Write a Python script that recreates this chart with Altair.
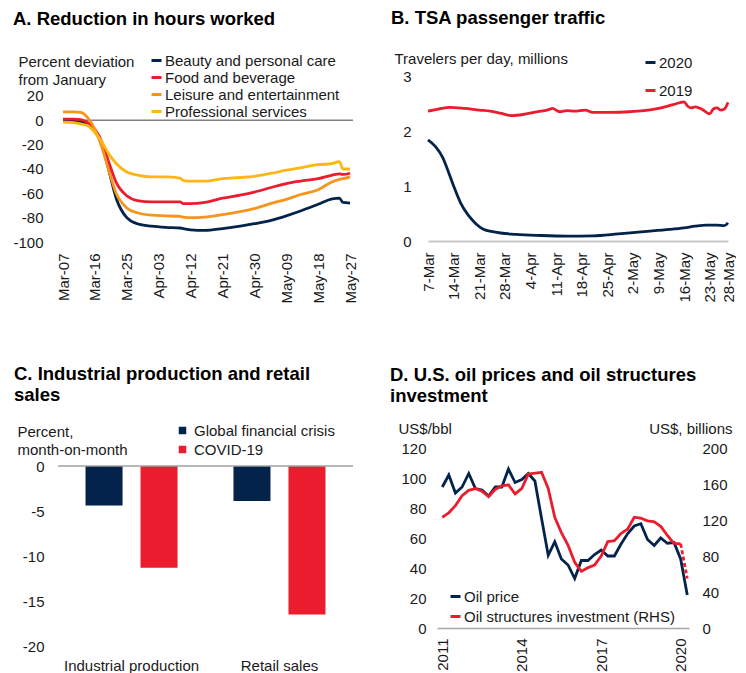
import altair as alt
import pandas as pd

FONT = "Liberation Sans"
NAVY = "#03234B"
RED = "#EB1C2D"
ORANGE = "#F7941D"
YELLOW = "#FDB714"
TXT = "#1A1A1A"
FS = 15
TFS = 18.5

# ---------------- Panel A data ----------------
a_dates = ["2020-03-07", "2020-03-10", "2020-03-12", "2020-03-14", "2020-03-16", "2020-03-18",
           "2020-03-20", "2020-03-22", "2020-03-25", "2020-03-28", "2020-04-01", "2020-04-05",
           "2020-04-09", "2020-04-10", "2020-04-12", "2020-04-16", "2020-04-21", "2020-04-26",
           "2020-04-30", "2020-05-05", "2020-05-09", "2020-05-13", "2020-05-18", "2020-05-22",
           "2020-05-24", "2020-05-25", "2020-05-27"]
a_series = ["Beauty and personal care", "Food and beverage", "Leisure and entertainment",
            "Professional services"]
a_beauty = [-1, -1, -1.5, -3, -9, -20, -42, -64, -80, -85, -87, -88, -88.5, -89, -90, -90.5,
            -89, -87, -85, -82, -78.5, -74.5, -69, -64.5, -64, -67.5, -68]
a_food = [1, 1, 0.5, -2, -7.5, -18, -35, -51, -62, -66, -67, -67, -67, -68.5, -68.5, -67.5,
          -64, -61.5, -59, -55, -52, -50, -48, -45, -44, -44.5, -43.5]
a_leisure = [7, 7, 6.5, 2, -7.5, -22.5, -42, -60, -72, -76, -78, -78.5, -79, -79.5, -80, -79.5,
             -77.5, -75, -72.5, -68, -65, -61, -57, -50.5, -48.5, -48, -46.5]
a_prof = [-1.5, -2, -3, -4.5, -10, -18, -28, -35.5, -42.5, -45, -46.5, -46.5, -47.5, -49.5, -50,
          -50, -48, -47, -46, -43.5, -41, -39, -36.5, -35.5, -34, -40, -40]
a_xticks = [(3, 7), (3, 16), (3, 25), (4, 3), (4, 12), (4, 21), (4, 30), (5, 9), (5, 18), (5, 27)]
a_yticks = [20, 0, -20, -40, -60, -80, -100]
a_zero_span = ["2020-03-07", "2020-05-28"]

# ---------------- Panel B data ----------------
b_series = ["2020", "2019"]
b_dates_2020 = ["2020-03-07", "2020-03-09", "2020-03-11", "2020-03-13", "2020-03-14", "2020-03-16",
                "2020-03-18", "2020-03-20", "2020-03-22", "2020-03-25", "2020-03-31", "2020-04-07",
                "2020-04-14", "2020-04-21", "2020-04-28", "2020-05-05", "2020-05-12", "2020-05-16",
                "2020-05-19", "2020-05-22", "2020-05-25", "2020-05-27", "2020-05-28"]
b_vals_2020 = [1.84, 1.72, 1.52, 1.18, 1.0, 0.68, 0.47, 0.32, 0.22, 0.165, 0.12, 0.10, 0.09,
               0.095, 0.13, 0.17, 0.21, 0.24, 0.27, 0.29, 0.29, 0.28, 0.33]
b_dates_2019 = ["2020-03-07", "2020-03-10", "2020-03-13", "2020-03-17", "2020-03-21", "2020-03-24",
                "2020-03-27", "2020-03-30", "2020-04-02", "2020-04-05", "2020-04-09", "2020-04-10",
                "2020-04-12", "2020-04-14", "2020-04-16", "2020-04-19", "2020-04-21", "2020-04-26",
                "2020-05-01", "2020-05-05", "2020-05-09", "2020-05-13", "2020-05-16", "2020-05-17",
                "2020-05-18", "2020-05-19", "2020-05-21", "2020-05-23", "2020-05-24", "2020-05-25",
                "2020-05-26", "2020-05-27", "2020-05-28"]
b_vals_2019 = [2.36, 2.40, 2.43, 2.41, 2.38, 2.36, 2.32, 2.28, 2.30, 2.34, 2.39, 2.41, 2.35, 2.37,
               2.36, 2.38, 2.34, 2.34, 2.35, 2.37, 2.41, 2.48, 2.53, 2.45, 2.42, 2.44, 2.39, 2.31,
               2.40, 2.42, 2.38, 2.40, 2.52]
b_xticks = [(3, 7), (3, 14), (3, 21), (3, 28), (4, 4), (4, 11), (4, 18), (4, 25), (5, 2), (5, 9),
            (5, 16), (5, 23), (5, 28)]
b_yticks = [0, 1, 2, 3]

# ---------------- Panel C data ----------------
c_cats = ["Industrial production", "Retail sales"]
c_series = ["Global financial crisis", "COVID-19"]
c_gfc = [-4.4, -3.9]
c_covid = [-11.3, -16.5]
c_yticks = [0, -5, -10, -15, -20]

# ---------------- Panel D data ----------------
d_quarters = [f"{y}-{m:02d}-01" for y in range(2011, 2021) for m in (1, 4, 7, 10)][:38]
d_series = ["Oil price", "Oil structures investment (RHS)"]
d_oil = [94, 102, 90, 94, 103, 93, 92, 88, 94, 94, 106, 97, 99, 103, 98, 73, 48.5, 57.5, 46, 42,
         33, 45, 45, 49, 52, 48, 48, 56, 63, 68, 69.5, 59, 55, 60, 56.5, 57, 46, 22]
d_inv = [123, 128, 136, 147, 153, 155, 152, 146, 154, 158, 159, 149, 155, 171, 172, 173, 155, 123,
         106, 92, 73, 63, 67, 70, 80, 96, 97, 105, 110, 123, 122, 119, 118, 113, 103, 94, 93.5, 55]
d_xticks = [2011, 2014, 2017, 2020]
d_left_ticks = [0, 20, 40, 60, 80, 100, 120]
d_right_ticks = [0, 40, 80, 120, 160, 200]


def utc(y, m, d, h=0):
    return alt.DateTime(year=y, month=m, date=d, hours=h, utc=True)


def legend(x, y, row_pad, stype="stroke", ssize=100, loff=2):
    return alt.Legend(title=None, orient="none", legendX=x, legendY=y, symbolType=stype,
                      symbolSize=ssize, symbolStrokeWidth=3, labelFontSize=FS, labelFont=FONT,
                      labelColor=TXT, labelOffset=loff, rowPadding=row_pad, padding=0,
                      labelLimit=400, symbolOpacity=1)


def title(text, dx=0, offset=10):
    return alt.TitleParams(text=text, anchor="start", frame="group", fontSize=TFS, font=FONT,
                           fontWeight="bold", color="#000000", dx=dx, offset=offset,
                           lineHeight=21)


def yaxis(values, title_lines, tx, ty, pad, orient="left", align="left"):
    return alt.Axis(values=values, grid=False, domain=False, ticks=False, labelPadding=pad,
                    labelFontSize=FS, labelFont=FONT, labelColor=TXT, labelOverlap=False,
                    labelExpr="'' + datum.value", title=title_lines, titleAngle=0,
                    titleAlign=align, titleBaseline="top", titleX=tx, titleY=ty,
                    titleFontSize=FS, titleFont=FONT, titleFontWeight="normal",
                    titleColor=TXT, titleLineHeight=18, orient=orient)


def xaxis_time(values, fmt, pad, domain=False, dcolor="#A6A6A6", dwidth=1.5):
    return alt.Axis(values=values, format=fmt, labelAngle=-90, labelAlign="right",
                    labelBaseline="middle", labelPadding=pad, ticks=False, domain=domain,
                    domainColor=dcolor, domainWidth=dwidth, grid=False, labelFontSize=FS,
                    labelFont=FONT, labelColor=TXT, labelOverlap=False, title=None)


# ---------------- Panel A ----------------
dfA = pd.concat([pd.DataFrame({"date": a_dates, "series": s, "value": v})
                 for s, v in zip(a_series, [a_beauty, a_food, a_leisure, a_prof])])
scaleAx = alt.Scale(type="utc", domain=[utc(2020, 3, 5, 14), utc(2020, 5, 27, 20)])
scaleAy = alt.Scale(domain=[-100, 36.4], nice=False)
axisAx = xaxis_time([utc(2020, m, d) for m, d in a_xticks], "%b-%d", 11)
axisAy = yaxis(a_yticks, ["Percent deviation", "from January"], -40, -22, 15)
linesA = alt.Chart(dfA).mark_line(strokeWidth=2.8, interpolate="monotone").encode(
    x=alt.X("date:T", scale=scaleAx, axis=axisAx),
    y=alt.Y("value:Q", scale=scaleAy, axis=axisAy),
    color=alt.Color("series:N", sort=a_series,
                    scale=alt.Scale(domain=a_series, range=[NAVY, RED, ORANGE, YELLOW]),
                    legend=legend(91, -23, 1, loff=1)))
ruleA = alt.Chart(pd.DataFrame({"date": [a_zero_span[0]], "end": [a_zero_span[1]],
                                "value": [0]})).mark_rule(
    color="#808080", strokeWidth=1.5, clip=True).encode(
    x=alt.X("date:T", scale=scaleAx, axis=axisAx), x2="end:T",
    y=alt.Y("value:Q", scale=scaleAy, axis=axisAy))
A = alt.layer(ruleA, linesA).properties(
    width=295, height=166, title=title("A. Reduction in hours worked", dx=-45, offset=25))

# ---------------- Panel B ----------------
dfB = pd.concat([pd.DataFrame({"date": b_dates_2020, "series": "2020", "value": b_vals_2020}),
                 pd.DataFrame({"date": b_dates_2019, "series": "2019", "value": b_vals_2019})])
B = alt.Chart(dfB).mark_line(strokeWidth=2.8, interpolate="monotone").encode(
    x=alt.X("date:T", scale=alt.Scale(type="utc", domain=[utc(2020, 3, 7), utc(2020, 5, 28)]),
            axis=xaxis_time([utc(2020, m, d) for m, d in b_xticks], "%-d-%b", 11, domain=True,
                            dcolor="#C8C8C8", dwidth=2)),
    y=alt.Y("value:Q", scale=alt.Scale(domain=[0, 3], nice=False),
            axis=yaxis(b_yticks, "Travelers per day, millions", -34, -24.5, 17)),
    color=alt.Color("series:N", sort=b_series,
                    scale=alt.Scale(domain=b_series, range=[NAVY, RED]),
                    legend=legend(215, -21, 12, loff=1)),
).properties(width=300, height=165, title=title("B. TSA passenger traffic", dx=-37, offset=24))

# ---------------- Panel C ----------------
dfC = pd.DataFrame({"cat": c_cats * 2,
                    "series": [c_series[0]] * 2 + [c_series[1]] * 2,
                    "value": c_gfc + c_covid})
scaleCy = alt.Scale(domain=[-20, 2], nice=False)
barsC = alt.Chart(dfC).mark_bar().encode(
    x=alt.X("cat:N", sort=c_cats, scale=alt.Scale(paddingInner=0.378, paddingOuter=0.186),
            axis=alt.Axis(title=None, labelAngle=0, ticks=False, domain=False, labelPadding=12,
                          labelFontSize=FS, labelFont=FONT, labelColor=TXT)),
    xOffset=alt.XOffset("series:N", sort=c_series,
                        scale=alt.Scale(domain=c_series, paddingInner=0.327, paddingOuter=0)),
    y=alt.Y("value:Q", scale=scaleCy,
            axis=yaxis(c_yticks, ["Percent,", "month-on-month"], -41, -24, 14)),
    color=alt.Color("series:N", sort=c_series,
                    scale=alt.Scale(domain=c_series, range=[NAVY, RED]),
                    legend=legend(117, -25, 3, stype="square", ssize=56, loff=4)),
)
ruleC = alt.Chart(pd.DataFrame({"v": [0]})).mark_rule(color="#A0A0A0", strokeWidth=1.5).encode(
    y=alt.datum(0))
C = alt.layer(barsC, ruleC).properties(
    width=295, height=198,
    title=title(["C. Industrial production and retail", "sales"], dx=-44, offset=19))

# ---------------- Panel D ----------------
dfOil = pd.DataFrame({"date": d_quarters, "series": d_series[0], "value": d_oil})
dfInv = pd.concat([
    pd.DataFrame({"date": d_quarters[:-1], "series": d_series[1], "value": d_inv[:-1],
                  "part": "actual"}),
    pd.DataFrame({"date": d_quarters[-2:], "series": d_series[1], "value": d_inv[-2:],
                  "part": "projection"}),
])
xD = alt.X("date:T", scale=alt.Scale(type="utc", domain=[utc(2010, 10, 20), utc(2020, 4, 25)]),
           axis=xaxis_time([utc(y, 1, 1) for y in d_xticks], "%Y", 10, domain=True))
colorD = alt.Color("series:N", sort=d_series, scale=alt.Scale(domain=d_series, range=[NAVY, RED]),
                   legend=legend(11, 141, 4, loff=1))
oilD = alt.Chart(dfOil).mark_line(strokeWidth=2.8).encode(
    x=xD,
    y=alt.Y("value:Q", scale=alt.Scale(domain=[0, 120], nice=False),
            axis=yaxis(d_left_ticks, "US$/bbl", -39, -27, 11)),
    color=colorD)
invD = alt.Chart(dfInv).mark_line(strokeWidth=2.8).encode(
    x=xD,
    y=alt.Y("value:Q", scale=alt.Scale(domain=[0, 200], nice=False),
            axis=yaxis(d_right_ticks, "US$, billions", 43, -27, 13, orient="right",
                       align="right")),
    color=colorD,
    strokeDash=alt.StrokeDash("part:N", scale=alt.Scale(domain=["actual", "projection"],
                                                        range=[[1, 0], [4, 2.5]]), legend=None),
)
D = alt.layer(oilD, invD).resolve_scale(y="independent").properties(
    width=252, height=180,
    title=title(["D. U.S. oil prices and oil structures", "investment"], dx=-47, offset=16))

top = alt.hconcat(A, B, spacing=75, bounds="flush").resolve_scale(
    color="independent", x="independent", y="independent")
bottom = alt.hconcat(C, D, spacing=84, bounds="flush").resolve_scale(
    color="independent", x="independent", y="independent")
chart = alt.vconcat(top, bottom, spacing=372, bounds="flush").resolve_scale(
    color="independent", x="independent", y="independent", strokeDash="independent"
).properties(
    padding={"left": 4, "top": 1, "right": 0, "bottom": 0}
).configure(font=FONT).configure_view(stroke=None)

chart.save("out.html", embed_options={"renderer": "svg", "actions": False})
